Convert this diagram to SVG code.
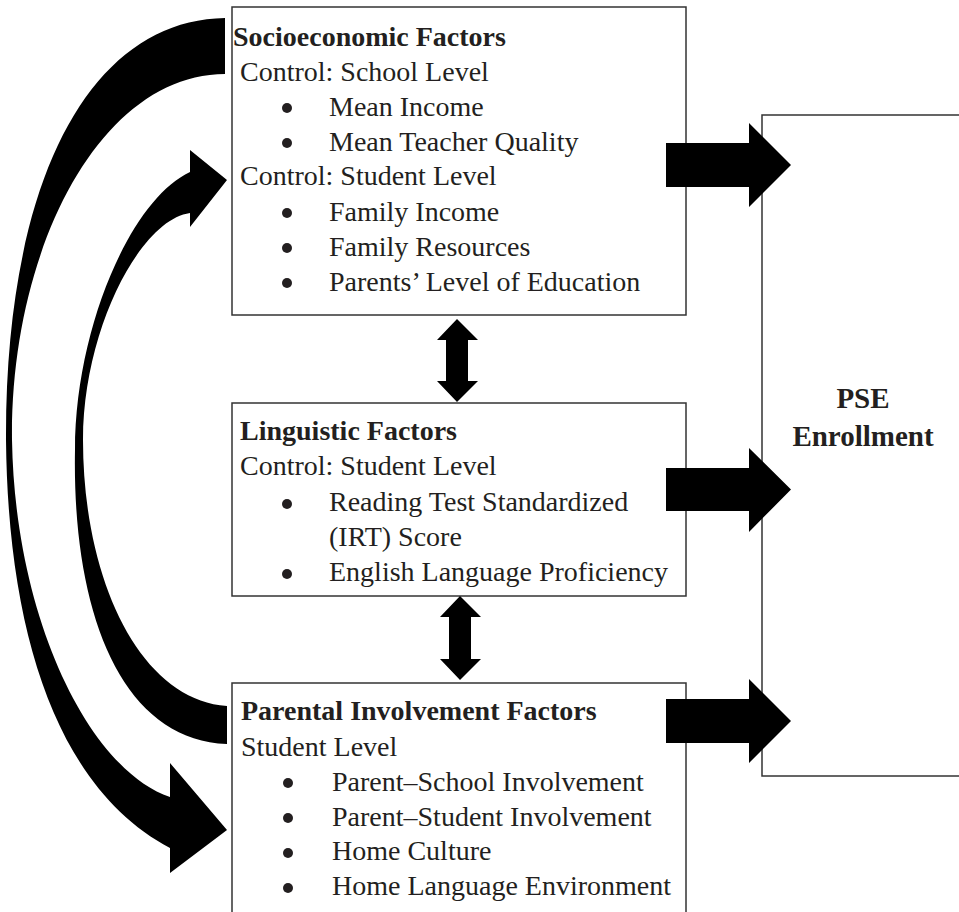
<svg xmlns="http://www.w3.org/2000/svg" width="959" height="912" viewBox="0 0 959 912">
<style>
.box{fill:#fff;stroke:#333;stroke-width:1.5}
.t{font-family:"Liberation Serif","Times New Roman",serif;font-size:28px;fill:#231f20}
.b{font-weight:bold}
.dot{fill:#231f20}
.arr{fill:#000}
</style>
<rect width="959" height="912" fill="#fff"/>
<g id="socioeconomic">
<rect class="box" x="232" y="7" width="454" height="308"/>
<text class="t b" x="233" y="46">Socioeconomic Factors</text>
<text class="t" x="240" y="81">Control: School Level</text>
<circle class="dot" cx="287" cy="108" r="5"/><text class="t" x="329" y="116">Mean Income</text>
<circle class="dot" cx="287" cy="143" r="5"/><text class="t" x="329" y="151">Mean Teacher Quality</text>
<text class="t" x="240" y="185">Control: Student Level</text>
<circle class="dot" cx="287" cy="213" r="5"/><text class="t" x="329" y="221">Family Income</text>
<circle class="dot" cx="287" cy="248" r="5"/><text class="t" x="329" y="256">Family Resources</text>
<circle class="dot" cx="287" cy="283" r="5"/><text class="t" x="329" y="291">Parents’ Level of Education</text>
</g>
<g id="linguistic">
<rect class="box" x="232" y="403" width="454" height="193"/>
<text class="t b" x="240" y="440">Linguistic Factors</text>
<text class="t" x="240" y="475">Control: Student Level</text>
<circle class="dot" cx="287" cy="504" r="5"/><text class="t" x="329" y="511">Reading Test Standardized</text>
<text class="t" x="329" y="546">(IRT) Score</text>
<circle class="dot" cx="287" cy="574" r="5"/><text class="t" x="329" y="581">English Language Proficiency</text>
</g>
<g id="parental">
<rect class="box" x="232" y="683" width="454" height="240"/>
<text class="t b" x="241" y="720">Parental Involvement Factors</text>
<text class="t" x="241" y="756">Student Level</text>
<circle class="dot" cx="288" cy="783" r="5"/><text class="t" x="332" y="791">Parent–School Involvement</text>
<circle class="dot" cx="288" cy="818" r="5"/><text class="t" x="332" y="826">Parent–Student Involvement</text>
<circle class="dot" cx="288" cy="853" r="5"/><text class="t" x="332" y="860">Home Culture</text>
<circle class="dot" cx="288" cy="888" r="5"/><text class="t" x="332" y="895">Home Language Environment</text>
</g>
<g id="pse">
<rect class="box" x="762" y="115" width="210" height="661"/>
<text class="t b" x="863" y="408" text-anchor="middle" style="font-size:29px">PSE</text>
<text class="t b" x="863" y="446" text-anchor="middle" style="font-size:29px">Enrollment</text>
</g>
<g id="connectors">
<path class="arr" d="M666,143 L749,143 L749,123 L791,165 L749,207 L749,187 L666,187 Z"/>
<path class="arr" d="M666,468 L749,468 L749,448 L791,489.5 L749,532 L749,511 L666,511 Z"/>
<path class="arr" d="M666,699 L749,699 L749,679 L791,721 L749,763 L749,743 L666,743 Z"/>
<path class="arr" d="M457,319 L478,340 L468,340 L468,381 L478,381 L457,402 L437,381 L446,381 L446,340 L437,340 Z"/>
<path class="arr" d="M460,596 L481,617 L471,617 L471,659 L481,659 L460,680 L440,659 L449,659 L449,617 L440,617 Z"/>
<path class="arr" d="M225,18 C90,20 5,180 6,440 C8,640 60,790 170,848 L170,873 L227,830 L170,763 L170,797 C90,770 15,620 12,440 C10,250 100,74 225,74 Z"/>
<path class="arr" d="M227,744 C120,740 72,610 75,450 C75,330 130,200 190,172 L190,150 L227,180 L190,227 L190,213 C140,220 83,330 83,440 C83,580 140,700 227,706 Z"/>
</g>
</svg>
